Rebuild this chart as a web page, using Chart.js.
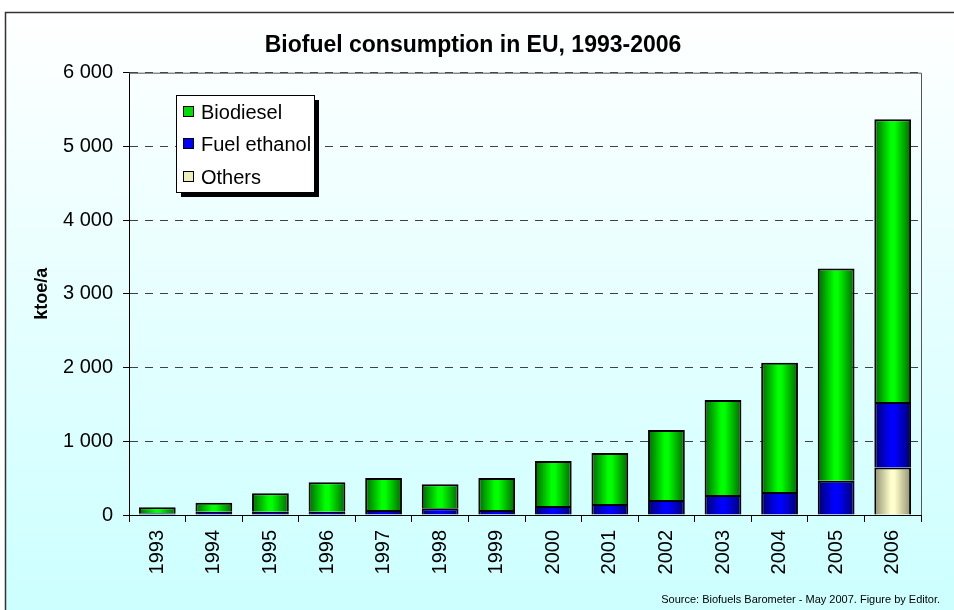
<!DOCTYPE html>
<html lang="en">
<head>
  <meta charset="UTF-8" />
  <title>Biofuel consumption in EU, 1993-2006</title>
  <script src="https://cdn.jsdelivr.net/npm/chart.js"></script>
  <style>
    body { margin: 0; padding: 0; background: #ffffff; }
    #wrap { position: relative; width: 954px; height: 610px; }
  </style>
</head>
<body>
  <div id="wrap"><canvas id="biofuelChart"></canvas></div>
  <script>
    // values, ktoe/a
    const years = ['1993', '1994', '1995', '1996', '1997', '1998', '1999',
                   '2000', '2001', '2002', '2003', '2004', '2005', '2006'];
    const biodiesel = [80, 122, 249, 398, 434, 325, 434, 612, 690, 947, 1288, 1751, 2882, 3834];
    const fuelEthanol = [25, 45, 45, 45, 68, 91, 68, 122, 150, 205, 272, 313, 463, 889];
    const others = [null, null, null, null, null, null, null, null, null, null, null, null, null, 644];
    const yTicks = [0, 1000, 2000, 3000, 4000, 5000, 6000];

    const FONT = "'Liberation Sans', Arial, sans-serif";
    const BAR_PCT = 0.65;
    const TITLE = 'Biofuel consumption in EU, 1993-2006';

    function barGradient(dark, light) {
      return function (c) {
        const chart = c.chart;
        const area = chart.chartArea;
        if (!area) return light;
        const x = chart.scales.x.getPixelForValue(c.dataIndex);
        const half = (area.right - area.left) / years.length * BAR_PCT / 2;
        const g = chart.ctx.createLinearGradient(x - half, 0, x + half, 0);
        g.addColorStop(0, dark);
        g.addColorStop(0.45, light);
        g.addColorStop(0.55, light);
        g.addColorStop(1, dark);
        return g;
      };
    }

    function spaced(v) {
      return String(v).replace(/\B(?=(\d{3})+(?!\d))/g, ' ');
    }

    const frame = {
      id: 'frame',
      beforeDraw(chart) {
        const ctx = chart.ctx;
        ctx.save();
        const g = ctx.createLinearGradient(0, 12, 0, 610);
        g.addColorStop(0, '#ffffff');
        g.addColorStop(1, '#ccffff');
        ctx.fillStyle = g;
        ctx.fillRect(5, 12, chart.width, chart.height);
        ctx.strokeStyle = '#333333';
        ctx.lineWidth = 1.5;
        ctx.strokeRect(5.5, 12.5, chart.width + 10, chart.height + 10);
        // title
        ctx.fillStyle = '#000000';
        ctx.font = 'bold 23px ' + FONT;
        ctx.textAlign = 'center';
        ctx.textBaseline = 'middle';
        ctx.fillText(TITLE, 473, 46);
        ctx.restore();
      },
      beforeDatasetsDraw(chart) {
        const a = chart.chartArea;
        const ctx = chart.ctx;
        ctx.save();
        ctx.strokeStyle = '#555555';
        ctx.lineWidth = 1;
        ctx.beginPath();
        ctx.moveTo(a.left, a.top + 0.5);
        ctx.lineTo(a.right + 0.5, a.top + 0.5);
        ctx.lineTo(a.right + 0.5, a.bottom);
        ctx.stroke();
        ctx.restore();
      },
      afterDraw(chart) {
        const ctx = chart.ctx;
        ctx.save();
        // legend box with shadow
        const bx = 176, by = 95, bw = 138, bh = 97;
        ctx.fillStyle = '#000000';
        ctx.fillRect(bx + 5, by + 5, bw, bh);
        ctx.fillStyle = '#ffffff';
        ctx.fillRect(bx, by, bw, bh);
        ctx.strokeStyle = '#000000';
        ctx.lineWidth = 1;
        ctx.strokeRect(bx + 0.5, by + 0.5, bw, bh);
        const items = chart.data.datasets.slice().reverse();
        const rowsY = [112, 144, 177];
        ctx.font = '20px ' + FONT;
        ctx.textBaseline = 'middle';
        items.forEach((ds, i) => {
          const y = rowsY[i];
          ctx.fillStyle = ds.legendColor;
          ctx.fillRect(183, y - 5, 10, 10);
          ctx.strokeStyle = '#000000';
          ctx.strokeRect(183.5, y - 5.5, 10, 10);
          ctx.fillStyle = '#000000';
          ctx.fillText(ds.label, 201, y + 1);
        });
        // source note
        ctx.font = '11px ' + FONT;
        ctx.textAlign = 'right';
        ctx.fillText('Source: Biofuels Barometer - May 2007. Figure by Editor.', 940, 600);
        ctx.restore();
      }
    };

    new Chart(document.getElementById('biofuelChart'), {
      type: 'bar',
      data: {
        labels: years,
        datasets: [
          {
            label: 'Others',
            data: others,
            legendColor: '#eeeebb',
            backgroundColor: barGradient('#8f8f70', '#ffffcc'),
            borderColor: '#000000',
            borderWidth: 2
          },
          {
            label: 'Fuel ethanol',
            data: fuelEthanol,
            legendColor: '#0000ff',
            backgroundColor: barGradient('#000070', '#0000ff'),
            borderColor: '#000000',
            borderWidth: 2
          },
          {
            label: 'Biodiesel',
            data: biodiesel,
            legendColor: '#00dd00',
            backgroundColor: barGradient('#006600', '#00ff00'),
            borderColor: '#000000',
            borderWidth: 2
          }
        ]
      },
      options: {
        responsive: true,
        maintainAspectRatio: false,
        animation: false,
        barPercentage: BAR_PCT,
        categoryPercentage: 1,
        layout: { padding: { left: 0, right: 33, top: 72.7, bottom: 0 } },
        plugins: {
          legend: { display: false },
          tooltip: { enabled: false },
          title: { display: false }
        },
        scales: {
          x: {
            stacked: true,
            grid: { drawOnChartArea: false, drawTicks: true, tickLength: 7, color: '#000000', offset: true },
            border: { display: true, color: '#000000', width: 1 },
            ticks: {
              color: '#000000',
              font: { family: FONT, size: 20 },
              minRotation: 90,
              maxRotation: 90,
              padding: 8
            },
            afterFit(scale) { scale.height = 95; }
          },
          y: {
            stacked: true,
            min: 0,
            max: 6000,
            afterBuildTicks(scale) { scale.ticks = yTicks.map(v => ({ value: v })); },
            grid: { color: '#404040', tickColor: '#000000', tickLength: 6, lineWidth: 1 },
            border: { display: true, color: '#000000', width: 1, dash: [8, 7] },
            ticks: {
              color: '#000000',
              font: { family: FONT, size: 20 },
              padding: 10,
              callback: (v) => spaced(v)
            },
            title: {
              display: true,
              text: 'ktoe/a',
              color: '#000000',
              font: { family: FONT, size: 18, weight: 'bold' },
              padding: { top: 31, bottom: 0 }
            },
            afterFit(scale) { scale.width = 129; }
          }
        }
      },
      plugins: [frame]
    });
  </script>
</body>
</html>
